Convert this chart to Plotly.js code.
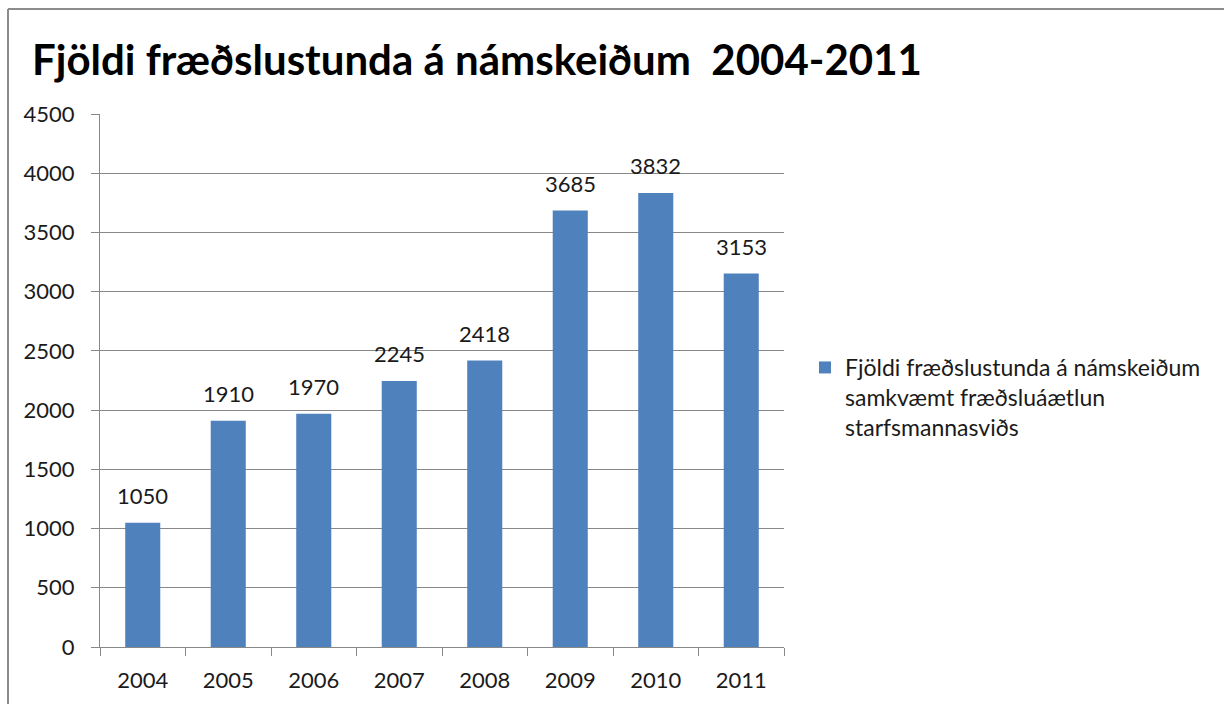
<!DOCTYPE html>
<html>
<head>
<meta charset="utf-8">
<script src="https://cdn.plot.ly/plotly-3.0.1.min.js"></script>
<style>
html,body{margin:0;padding:0;background:#fff;}
#chart{width:1224px;height:704px;}
</style>
</head>
<body>
<div id="chart"></div>
<script>
const years = ["2004","2005","2006","2007","2008","2009","2010","2011"];
const hours = [1050, 1910, 1970, 2245, 2418, 3685, 3832, 3153];
const seriesName = "Fjöldi fræðslustunda á námskeiðum<br>samkvæmt fræðsluáætlun<br>starfsmannasviðs";
const chartTitle = "Fjöldi fræðslustunda á námskeiðum  2004-2011";
const yTicks = [0, 500, 1000, 1500, 2000, 2500, 3000, 3500, 4000, 4500];

const FONT = "Lato, 'Open Sans', sans-serif";
const TXT = "#1a1a1a";

const trace = {
  type: "bar",
  x: years,
  y: hours,
  name: seriesName,
  marker: {color: "#4F81BD"},
  showlegend: true
};

const L = 100, R = 784, T = 114, B = 647;
const pw = R - L, ph = B - T;
const px = v => (v - L) / pw;
const py = v => (B - v) / ph;

const labelAnnotations = years.map((yr, i) => ({
  x: i, y: hours[i], xref: "x", yref: "y",
  text: String(hours[i]),
  showarrow: false,
  yanchor: "bottom",
  yshift: 12,
  font: {family: FONT, size: 22, color: TXT}
}));

const layout = {
  width: 1224, height: 704,
  margin: {l: L, r: 1224 - R, t: T, b: 704 - B},
  paper_bgcolor: "#fff", plot_bgcolor: "#fff",
  font: {family: FONT, size: 22, color: TXT},
  title: {
    text: "<b>" + chartTitle + "</b>",
    font: {family: FONT, size: 42, color: "#000"},
    xref: "container", yref: "container",
    x: 32/1224, xanchor: "left",
    y: 1 - 60/704, yanchor: "middle"
  },
  bargap: 0.59,
  xaxis: {
    type: "category",
    range: [-0.5, years.length - 0.5],
    showline: true, linecolor: "#888", linewidth: 1,
    ticks: "outside", ticklen: 8, tickcolor: "#888", tickson: "boundaries",
    showgrid: false,
    ticklabelstandoff: 14,
    tickfont: {family: FONT, size: 22, color: TXT}
  },
  yaxis: {
    range: [0, 4500],
    tickvals: yTicks,
    showline: true, linecolor: "#888", linewidth: 1,
    ticks: "outside", ticklen: 8, tickcolor: "#888",
    showgrid: true, gridcolor: "#888", gridwidth: 1,
    zeroline: false,
    ticklabelstandoff: 12,
    tickfont: {family: FONT, size: 22, color: TXT}
  },
  legend: {
    x: px(805), xanchor: "left",
    y: py(346), yanchor: "top",
    valign: "top",
    font: {family: FONT, size: 23, color: TXT},
    bgcolor: "rgba(0,0,0,0)",
    itemwidth: 30
  },
  annotations: labelAnnotations,
  shapes: [
    {type: "line", xref: "paper", yref: "paper", x0: px(8), x1: px(8), y0: py(710), y1: py(9), line: {color: "#8c8c8c", width: 2}},
    {type: "line", xref: "paper", yref: "paper", x0: px(8), x1: px(1230), y0: py(9), y1: py(9), line: {color: "#8c8c8c", width: 2}}
  ]
};

Plotly.newPlot("chart", [trace], layout, {displayModeBar: false, staticPlot: true});
</script>
</body>
</html>
